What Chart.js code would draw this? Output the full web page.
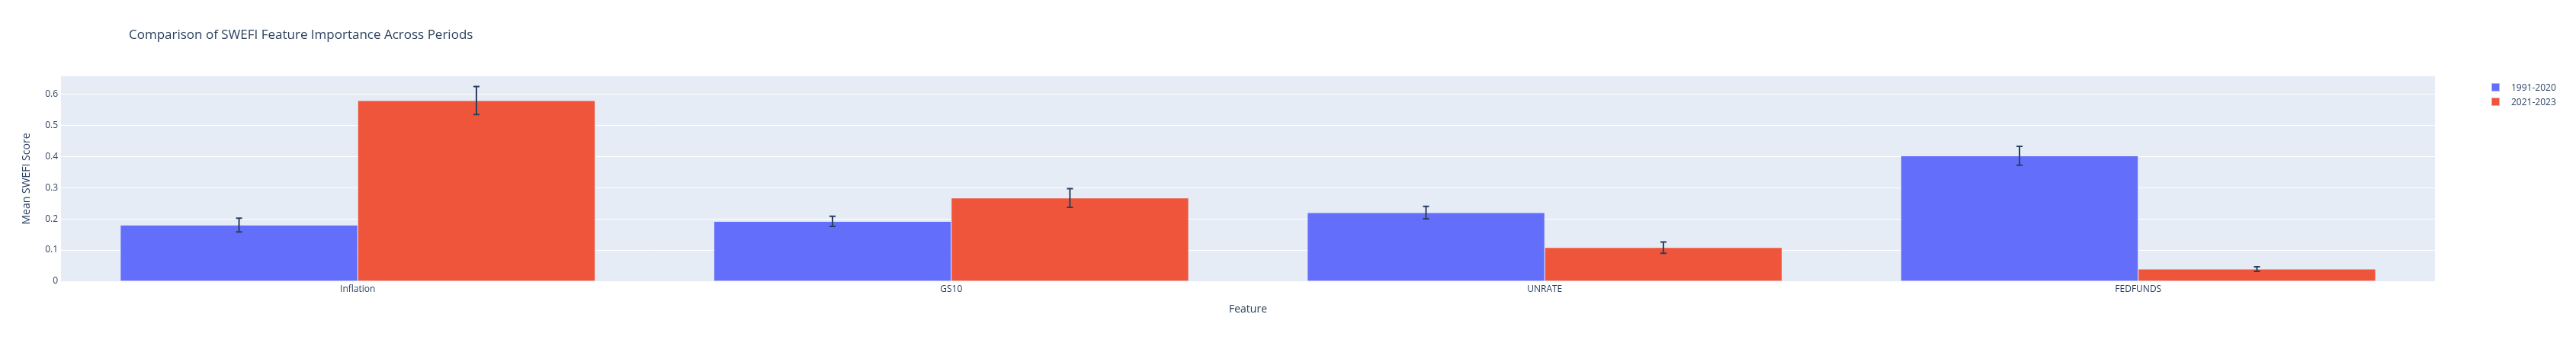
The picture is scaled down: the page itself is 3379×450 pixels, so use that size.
<!DOCTYPE html>
<html>
<head>
<meta charset="utf-8">
<script src="https://cdn.jsdelivr.net/npm/chart.js@4/dist/chart.umd.min.js"></script>
<style>
  html, body { margin: 0; padding: 0; background: #fff; }
  #wrap { position: relative; width: 3379px; height: 450px; font-family: "Open Sans", verdana, arial, sans-serif; color: #2a3f5f; }
  #title { position: absolute; left: 169px; top: 33px; font-size: 17px; white-space: nowrap; }
  #legend { position: absolute; left: 3268px; top: 105px; font-size: 12px; }
  .item { height: 19px; display: flex; align-items: center; white-space: nowrap; }
  .sw { width: 11px; height: 11px; margin-right: 15px; box-sizing: border-box; }
</style>
</head>
<body>
<div id="wrap">
  <canvas id="chart" width="3379" height="450"></canvas>
  <div id="title">Comparison of SWEFI Feature Importance Across Periods</div>
  <div id="legend"></div>
</div>
<script>
// data
const features = ['Inflation', 'GS10', 'UNRATE', 'FEDFUNDS'];
const periods = ['1991-2020', '2021-2023'];
const scoreEarly = [0.180, 0.192, 0.220, 0.402];
const errEarly   = [0.022, 0.016, 0.020, 0.030];
const scoreLate  = [0.579, 0.267, 0.108, 0.039];
const errLate    = [0.045, 0.030, 0.018, 0.0075];
const yTicks = [0, 0.1, 0.2, 0.3, 0.4, 0.5, 0.6];

const colors = ['#636efa', '#EF553B'];
const fontFamily = '"Open Sans", verdana, arial, sans-serif';
const ink = '#2a3f5f';

// plot background
const plotBg = {
    id: 'plotBg',
    beforeDraw(chart) {
        const { ctx, chartArea: a } = chart;
        ctx.save();
        ctx.fillStyle = '#E5ECF6';
        ctx.fillRect(a.left, a.top, a.right - a.left, a.bottom - a.top);
        ctx.restore();
    }
};

// error bars on top of every bar
const errorBars = {
    id: 'errorBars',
    afterDatasetsDraw(chart) {
        const { ctx } = chart;
        const y = chart.scales.y;
        ctx.save();
        ctx.strokeStyle = ink;
        ctx.lineWidth = 2;
        chart.data.datasets.forEach((ds, di) => {
            const meta = chart.getDatasetMeta(di);
            meta.data.forEach((bar, i) => {
                const v = ds.data[i], e = ds.errors[i];
                const x = bar.x;
                const yTop = y.getPixelForValue(v + e);
                const yBot = y.getPixelForValue(v - e);
                ctx.beginPath();
                ctx.moveTo(x, yTop); ctx.lineTo(x, yBot);
                ctx.moveTo(x - 4, yTop); ctx.lineTo(x + 4, yTop);
                ctx.moveTo(x - 4, yBot); ctx.lineTo(x + 4, yBot);
                ctx.stroke();
            });
        });
        ctx.restore();
    }
};

const chart = new Chart(document.getElementById('chart'), {
    type: 'bar',
    data: {
        labels: features,
        datasets: [
            { label: periods[0], data: scoreEarly, errors: errEarly, backgroundColor: colors[0] },
            { label: periods[1], data: scoreLate, errors: errLate, backgroundColor: colors[1] }
        ]
    },
    options: {
        responsive: false,
        animation: false,
        datasets: {
            bar: { categoryPercentage: 0.8, barPercentage: 1.0, borderWidth: 0.5, borderColor: '#E5ECF6' }
        },
        layout: { padding: { left: 0, top: 100, right: 185, bottom: 0 } },
        plugins: { legend: { display: false }, tooltip: { enabled: false } },
        scales: {
            x: {
                grid: { display: false, drawTicks: false },
                border: { display: false },
                ticks: { color: ink, padding: 3, font: { family: fontFamily, size: 12 } },
                title: { display: true, text: 'Feature', color: ink, font: { family: fontFamily, size: 14 }, padding: { top: 0, bottom: 36 } },
                afterFit(scale) { scale.height = 81; }
            },
            y: {
                min: 0,
                max: 0.657,
                grid: { color: '#ffffff', lineWidth: 1, drawTicks: false },
                border: { display: false },
                afterBuildTicks(scale) { scale.ticks = yTicks.map(v => ({ value: v })); },
                ticks: { color: ink, padding: 4, font: { family: fontFamily, size: 12 }, callback: v => String(v) },
                title: { display: true, text: 'Mean SWEFI Score', color: ink, font: { family: fontFamily, size: 14 }, padding: { top: 27, bottom: 0 } },
                afterFit(scale) { scale.width = 80; }
            }
        }
    },
    plugins: [plotBg, errorBars]
});

// legend from the datasets
const legend = document.getElementById('legend');
chart.data.datasets.forEach(ds => {
    const row = document.createElement('div');
    row.className = 'item';
    const sw = document.createElement('span');
    sw.className = 'sw';
    sw.style.background = ds.backgroundColor;
    sw.style.border = '1px solid rgba(255,255,255,0.5)';
    row.appendChild(sw);
    row.appendChild(document.createTextNode(ds.label));
    legend.appendChild(row);
});
</script>
</body>
</html>
